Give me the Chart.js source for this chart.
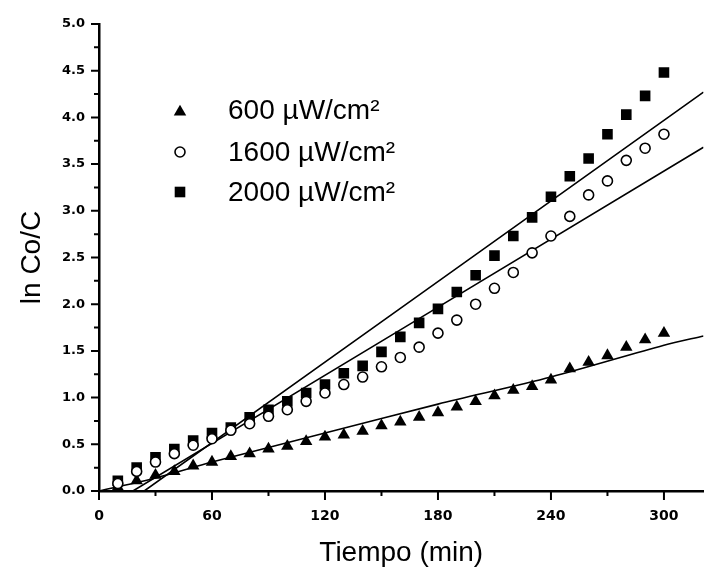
<!DOCTYPE html>
<html>
<head>
<meta charset="utf-8">
<script src="https://cdn.jsdelivr.net/npm/chart.js@4.4.1/dist/chart.umd.min.js"></script>
<style>
  html, body { margin: 0; padding: 0; background: #fff; }
  #wrap { width: 711px; height: 567px; }
</style>
</head>
<body>
<div id="wrap"><canvas id="kinChart"></canvas></div>
<script>
// time in minutes
const tiempo = [10, 20, 30, 40, 50, 60, 70, 80, 90, 100, 110, 120, 130, 140, 150,
  160, 170, 180, 190, 200, 210, 220, 230, 240, 250, 260, 270, 280, 290, 300];

// ln Co/C
const i600 = [0.04, 0.11, 0.17, 0.21, 0.27, 0.31, 0.37, 0.40, 0.45, 0.48, 0.53, 0.58, 0.60, 0.64, 0.70,
  0.74, 0.79, 0.84, 0.90, 0.96, 1.02, 1.08, 1.12, 1.19, 1.31, 1.38, 1.45, 1.54, 1.62, 1.69];
const i1600 = [0.08, 0.21, 0.31, 0.40, 0.49, 0.56, 0.65, 0.72, 0.80, 0.87, 0.96, 1.05, 1.14, 1.22, 1.33,
  1.43, 1.54, 1.69, 1.83, 2.00, 2.17, 2.34, 2.55, 2.73, 2.94, 3.17, 3.32, 3.54, 3.67, 3.82];
const i2000 = [0.11, 0.25, 0.36, 0.45, 0.54, 0.62, 0.68, 0.79, 0.87, 0.96, 1.05, 1.14, 1.26, 1.34, 1.49,
  1.65, 1.80, 1.95, 2.13, 2.31, 2.52, 2.73, 2.93, 3.15, 3.37, 3.56, 3.82, 4.03, 4.23, 4.48];

// fitted lines
const fit600T = [0, 30, 60, 120, 180, 240, 300, 321];
const fit600 = [0, 0.14, 0.31, 0.62, 0.93, 1.22, 1.56, 1.66];
const fit1600T = [18, 321];
const fit1600 = [0, 3.68];
const fit2000T = [24, 321];
const fit2000 = [0, 4.27];

const xTicks = [0, 60, 120, 180, 240, 300];
const legendLabels = ['600 µW/cm²', '1600 µW/cm²', '2000 µW/cm²'];

const pts = (xs, ys) => xs.map((x, i) => ({ x: x, y: ys[i] }));

const markerStyles = [
  { pointStyle: 'triangle', radius: 7.2, fill: '#000' },
  { pointStyle: 'circle', radius: 5, fill: '#fff' },
  { pointStyle: 'rect', radius: 7.5, fill: '#000' }
];

function fitLine(xs, ys) {
  return {
    data: pts(xs, ys),
    showLine: true,
    borderColor: '#000',
    borderWidth: 1.6,
    pointRadius: 0,
    tension: 0.3,
    order: 3
  };
}

function markers(ys, k, order) {
  const m = markerStyles[k];
  return {
    label: legendLabels[k],
    data: pts(tiempo, ys),
    showLine: false,
    pointStyle: m.pointStyle,
    pointRadius: m.radius,
    backgroundColor: m.fill,
    borderColor: '#000',
    borderWidth: k === 1 ? 1.6 : 0,
    order: order
  };
}

// minor/major tick marks and the inside legend
const decor = {
  id: 'decor',
  afterDraw(chart) {
    const ctx = chart.ctx;
    const xs = chart.scales.x, ys = chart.scales.y;
    const area = chart.chartArea;
    ctx.save();
    ctx.strokeStyle = '#000';
    ctx.lineWidth = 2;
    ctx.beginPath();
    for (let v = 0; v <= 5.0001; v += 0.25) {
      const y = ys.getPixelForValue(v);
      const major = Math.abs(v * 2 - Math.round(v * 2)) < 1e-6;
      ctx.moveTo(area.left, y);
      ctx.lineTo(area.left - (major ? 8 : 5), y);
    }
    for (let t = 0; t <= 300; t += 30) {
      const x = xs.getPixelForValue(t);
      ctx.moveTo(x, area.bottom);
      ctx.lineTo(x, area.bottom + (t % 60 === 0 ? 9 : 5));
    }
    ctx.stroke();

    const lx = 180, tx = 228, rows = [110, 152, 192];
    ctx.font = '28px "Liberation Sans", Arial, sans-serif';
    ctx.fillStyle = '#000';
    ctx.textBaseline = 'middle';
    for (let k = 0; k < 3; k++) {
      const m = markerStyles[k];
      ctx.fillStyle = m.fill;
      ctx.strokeStyle = '#000';
      ctx.lineWidth = 1.6;
      Chart.helpers.drawPoint(ctx, {
        pointStyle: m.pointStyle, radius: m.radius, rotation: 0,
        borderWidth: k === 1 ? 1.6 : 0
      }, lx, rows[k] + (k === 0 ? 2 : 0));
      ctx.fillStyle = '#000';
      ctx.fillText(legendLabels[k], tx, rows[k] + 1);
    }
    ctx.restore();
  }
};

const ctx = document.getElementById('kinChart').getContext('2d');
const kinChart = new Chart(ctx, {
  type: 'scatter',
  data: {
    datasets: [
      fitLine(fit600T, fit600),
      fitLine(fit1600T, fit1600),
      fitLine(fit2000T, fit2000),
      markers(i600, 0, 1),
      markers(i1600, 1, 0),
      markers(i2000, 2, 2)
    ]
  },
  options: {
    responsive: true,
    maintainAspectRatio: false,
    animation: false,
    layout: { padding: { top: 24, right: 0, left: 0, bottom: 0 } },
    plugins: {
      legend: { display: false },
      tooltip: { enabled: false }
    },
    scales: {
      x: {
        type: 'linear',
        min: 0,
        max: 321,
        grid: { display: false, drawTicks: false, tickLength: 0 },
        border: { display: true, color: '#000', width: 2.5 },
        afterBuildTicks: (s) => { s.ticks = xTicks.map(v => ({ value: v })); },
        afterFit: (s) => { s.height = 76; },
        ticks: {
          padding: 17,
          color: '#000',
          maxRotation: 0,
          font: { family: '"DejaVu Sans", sans-serif', size: 14, weight: 'bold' }
        },
        title: {
          display: true,
          text: 'Tiempo (min)',
          color: '#000',
          padding: { top: 0, bottom: 0 },
          font: { family: '"Liberation Sans", Arial, sans-serif', size: 28, lineHeight: 1 }
        }
      },
      y: {
        min: 0,
        max: 5,
        grid: { display: false, drawTicks: false, tickLength: 0 },
        border: { display: true, color: '#000', width: 2.5 },
        afterFit: (s) => { s.width = 99; },
        ticks: {
          stepSize: 0.5,
          padding: 14,
          color: '#000',
          callback: (v) => v.toFixed(1),
          font: { family: '"DejaVu Sans", sans-serif', size: 13, weight: 'bold' }
        },
        title: {
          display: true,
          text: 'ln Co/C',
          color: '#000',
          padding: { top: 18, bottom: 0 },
          font: { family: '"Liberation Sans", Arial, sans-serif', size: 28, lineHeight: 1 }
        }
      }
    }
  },
  plugins: [decor]
});
</script>
</body>
</html>
